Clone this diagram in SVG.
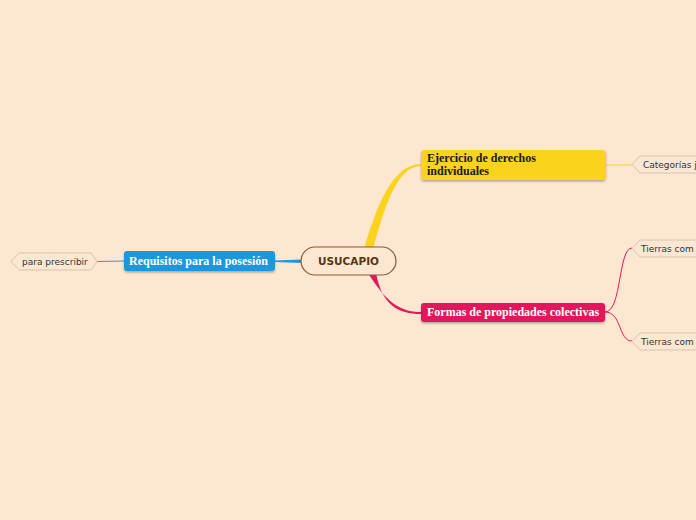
<svg xmlns="http://www.w3.org/2000/svg" width="696" height="520" viewBox="0 0 696 520">
<defs>
<filter id="sh" x="-10%" y="-20%" width="120%" height="160%">
<feDropShadow dx="0" dy="1.5" stdDeviation="1" flood-color="#000" flood-opacity="0.3"/>
</filter>
<style>
.title{font-family:"Liberation Serif","Times New Roman",serif;font-weight:bold;font-size:12px}
.leaf{fill:#FCE7D2;stroke:#D6C4B0;stroke-width:1}
.leaftxt{font-family:"DejaVu Sans",Verdana,sans-serif;font-size:9px;fill:#333}
</style>
</defs>
<rect width="696" height="520" fill="#FDE7D1"/>
<g id="connectors" fill="none">
<path d="M364,249 C376,208 392,164 421,164 L421,166 C396,166 384,210 373,249 Z" fill="#F9D31E"/>
<path d="M368,273 C386,302 400,312 421,312 L421,314 C398,314 382,305 376,273 Z" fill="#E2195C"/>
<path d="M301,259.5 L275,260.5 L275,262 L301,263 Z" fill="#1E96DD"/>
<path d="M606,165 L632,165" stroke="#F9D31E" stroke-width="1"/>
<path d="M605,312 C622,312 618,248 632,248" stroke="#E2195C" stroke-width="1"/>
<path d="M605,312 C622,312 618,341 632,341" stroke="#E2195C" stroke-width="1"/>
<path d="M124,261 L97,261.5" stroke="#4A8DB8" stroke-width="1"/>
</g>
<g id="usucapio">
<rect x="301" y="247" width="95" height="28" rx="14" fill="#FDE7D1" stroke="#8A5A30" stroke-width="1.2"/>
<text x="348.5" y="265" text-anchor="middle" font-family="'DejaVu Sans',Verdana,sans-serif" font-weight="bold" font-size="10.5" fill="#5A3512">USUCAPIO</text>
</g>
<g id="ejercicio">
<rect x="421" y="150" width="185" height="30" rx="4" fill="#F9D31E" filter="url(#sh)"/>
<text class="title" x="427" y="162" fill="#1a1a1a">Ejercicio de derechos</text>
<text class="title" x="427" y="175" fill="#1a1a1a">individuales</text>
</g>
<g id="formas">
<rect x="421" y="303" width="184" height="19" rx="3" fill="#E2195C" filter="url(#sh)"/>
<text class="title" x="427" y="316" fill="#fff">Formas de propiedades colectivas</text>
</g>
<g id="requisitos">
<rect x="124" y="251" width="151" height="20" rx="3" fill="#1E96DD" filter="url(#sh)"/>
<text class="title" x="129" y="265" fill="#fff">Requisitos para la posesión</text>
</g>
<g id="para-prescribir">
<path class="leaf" d="M19,253 L91,253 L97,261.5 L91,270 L19,270 L11,261.5 Z"/>
<text class="leaftxt" x="22" y="265">para prescribir</text>
</g>
<g id="categorias">
<path class="leaf" d="M640,156 L700,156 L700,173 L640,173 L632,164.5 Z"/>
<text class="leaftxt" x="643" y="168">Categorías j</text>
</g>
<g id="tierras1">
<path class="leaf" d="M640,240 L700,240 L700,257 L640,257 L632,248.5 Z"/>
<text class="leaftxt" x="641" y="252">Tierras com</text>
</g>
<g id="tierras2">
<path class="leaf" d="M640,333 L700,333 L700,350 L640,350 L632,341.5 Z"/>
<text class="leaftxt" x="641" y="345">Tierras com</text>
</g>
</svg>
